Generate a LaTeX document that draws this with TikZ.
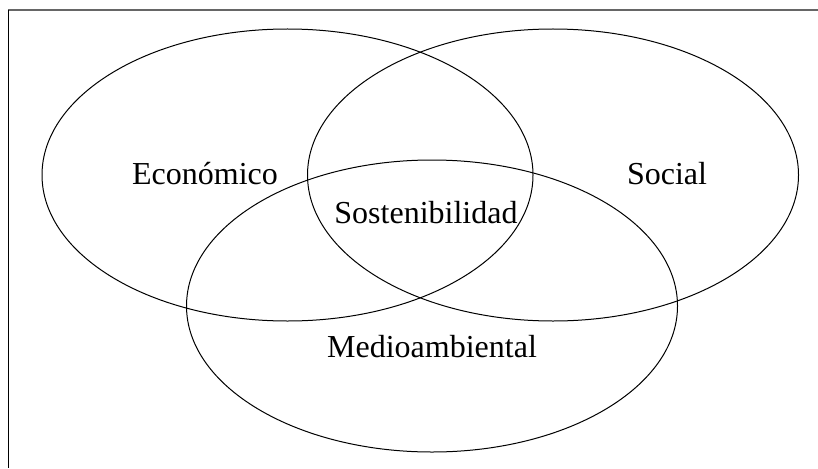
\documentclass[tikz,border=0pt]{standalone}
\usepackage{fontspec}
\setmainfont{Liberation Serif}
\usetikzlibrary{shapes.geometric}
\begin{document}
\begin{tikzpicture}[x=1pt,y=-1pt,
  circ/.style={draw=black,line width=1pt,ellipse,minimum width=491pt,minimum height=292pt,inner sep=0pt},
  lbl/.style={font=\fontsize{32}{38}\selectfont,inner sep=0pt,anchor=base}]
\useasboundingbox (0,0) rectangle (818,468);
\draw[line width=1.2pt,black!60] (8,10) -- (818,10);
\draw[line width=1pt,black] (8,10) -- (8,468);
\node[circ] (eco) at (287.5,175) {};
\node[circ] (soc) at (553,175) {};
\node[circ] (med) at (432,306) {};
\node[lbl] (teco) at (205,184) {Económico};
\node[lbl] (tsoc) at (667,184) {Social};
\node[lbl] (tsos) at (426,223) {Sostenibilidad};
\node[lbl] (tmed) at (432,357) {Medioambiental};
\end{tikzpicture}
\end{document}
